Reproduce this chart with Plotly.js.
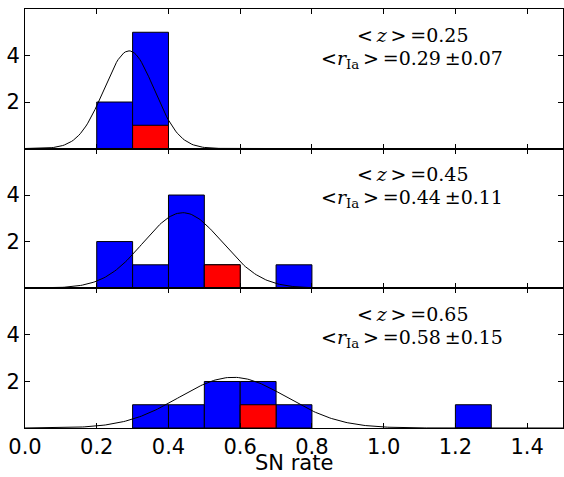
<!DOCTYPE html>
<html>
<head>
<meta charset="utf-8">
<script src="https://cdn.plot.ly/plotly-3.0.1.min.js"></script>
<style>html,body{margin:0;padding:0;background:#fff;}</style>
</head>
<body>
<div id="chart" style="width:564px;height:477px;"></div>
<script>
// Bin centres (bin width 0.1)
const binCenters = [0.25, 0.35, 0.45, 0.55, 0.65, 0.75, 0.85, 0.95, 1.05, 1.15, 1.25];
// Panel 1 (<z>=0.25)
const blue1 = [2, 5, 0, 0, 0, 0, 0, 0, 0, 0, 0];
const red1  = [0, 1, 0, 0, 0, 0, 0, 0, 0, 0, 0];
// Panel 2 (<z>=0.45)
const blue2 = [2, 1, 4, 1, 0, 1, 0, 0, 0, 0, 0];
const red2  = [0, 0, 0, 1, 0, 0, 0, 0, 0, 0, 0];
// Panel 3 (<z>=0.65)
const blue3 = [0, 1, 1, 2, 2, 1, 0, 0, 0, 0, 1];
const red3  = [0, 0, 0, 0, 1, 0, 0, 0, 0, 0, 0];
// Gaussian fits: mean, sigma, peak height
const fitMean  = [0.29, 0.44, 0.58];
const fitSigma = [0.07, 0.11, 0.15];
const fitPeak  = [4.2, 3.24, 2.18];
const zLabels  = ["0.25", "0.45", "0.65"];
const rLabels  = ["0.29", "0.44", "0.58"];
const rErrors  = ["0.07", "0.11", "0.15"];
const xTicks = [0.0, 0.2, 0.4, 0.6, 0.8, 1.0, 1.2, 1.4];
const yTicks = [2, 4];

const blues = [blue1, blue2, blue3];
const reds = [red1, red2, red3];
const traces = [];
const gx = [];
for (let i = 0; i <= 300; i++) gx.push(i * 0.005);

for (let p = 0; p < 3; p++) {
  const xa = p === 0 ? 'x' : 'x' + (p + 1);
  const ya = p === 0 ? 'y' : 'y' + (p + 1);
  const bx = [], by = [], rx = [], ry = [];
  binCenters.forEach((c, i) => {
    if (blues[p][i] > 0) { bx.push(c); by.push(blues[p][i]); }
    if (reds[p][i] > 0) { rx.push(c); ry.push(reds[p][i]); }
  });
  traces.push({type: 'bar', x: bx, y: by, width: 0.1, xaxis: xa, yaxis: ya,
    marker: {color: '#0000ff', line: {color: '#000', width: 1}}, hoverinfo: 'skip'});
  traces.push({type: 'bar', x: rx, y: ry, width: 0.1, xaxis: xa, yaxis: ya,
    marker: {color: '#ff0000', line: {color: '#000', width: 1}}, hoverinfo: 'skip'});
  const gy = gx.map(v => fitPeak[p] * Math.exp(-0.5 * Math.pow((v - fitMean[p]) / fitSigma[p], 2)));
  traces.push({type: 'scatter', mode: 'lines', x: gx, y: gy, xaxis: xa, yaxis: ya,
    line: {color: '#000', width: 1}, hoverinfo: 'skip'});
}

const axisFont = {family: 'DejaVu Sans', size: 21, color: '#000'};
const domains = [[0.667, 1], [0.334, 0.667], [0, 0.333]];
const serif = {family: 'DejaVu Serif', size: 19, color: '#000'};
const layout = {
  width: 564, height: 477,
  margin: {l: 25, r: 1, t: 9, b: 49},
  paper_bgcolor: '#fff', plot_bgcolor: '#fff',
  showlegend: false, barmode: 'overlay', bargap: 0,
  font: axisFont,
  annotations: [{
    xref: 'paper', yref: 'paper', x: 0.5, y: -0.084, xanchor: 'center', yanchor: 'middle',
    showarrow: false, borderpad: 0, text: 'SN rate', font: {family: 'DejaVu Sans', size: 21, color: '#000'}
  }]
};
for (let p = 0; p < 3; p++) {
  const xk = p === 0 ? 'xaxis' : 'xaxis' + (p + 1);
  const yk = p === 0 ? 'yaxis' : 'yaxis' + (p + 1);
  const ya = p === 0 ? 'y' : 'y' + (p + 1);
  const xa = p === 0 ? 'x' : 'x' + (p + 1);
  layout[xk] = {
    range: [0, 1.5], anchor: ya, tickvals: xTicks,
    ticktext: xTicks.map(v => v.toFixed(1)),
    showticklabels: p === 2, ticks: 'inside', ticklen: 5, tickcolor: '#000',
    showline: true, linecolor: '#000', linewidth: 1, mirror: 'allticks',
    showgrid: false, zeroline: false, tickfont: axisFont, fixedrange: true
  };
  if (p > 0) layout[xk].matches = 'x';
  layout[yk] = {
    range: [0, 6], domain: domains[p], anchor: xa, tickvals: yTicks,
    ticks: 'inside', ticklen: 5, tickcolor: '#000',
    showline: true, linecolor: '#000', linewidth: 1, mirror: 'allticks',
    showgrid: false, zeroline: false, tickfont: axisFont, fixedrange: true
  };
  layout.annotations.push({
    xref: xa, yref: ya, x: 1.08, y: 4.9, xanchor: 'center', yanchor: 'middle',
    showarrow: false, font: serif,
    text: '&lt;&#8201;<i>z</i>&#8201;&gt;&#8201;=' + zLabels[p]
  });
  layout.annotations.push({
    xref: xa, yref: ya, x: 1.08, y: 3.85, xanchor: 'center', yanchor: 'middle',
    showarrow: false, font: serif,
    text: '&lt;<i>r</i><sub>Ia</sub>&#8201;&gt;&#8201;=' + rLabels[p] + '&#8201;±' + rErrors[p]
  });
}
Plotly.newPlot('chart', traces, layout, {staticPlot: true, displayModeBar: false});
</script>
</body>
</html>
